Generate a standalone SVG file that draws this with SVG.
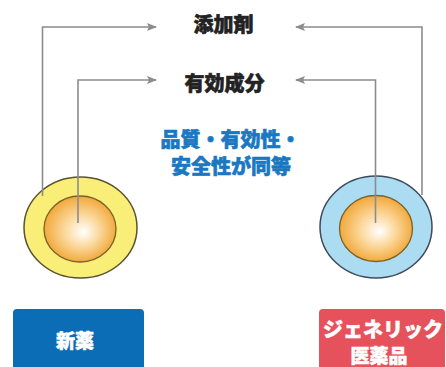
<svg xmlns="http://www.w3.org/2000/svg" width="446" height="367" viewBox="0 0 446 367">
<defs>
<style>
.con{fill:none;stroke:#8c8c8c;stroke-width:1.6}
.lbl{font-family:"Noto Sans CJK JP","Noto Sans CJK SC",sans-serif;font-weight:900;text-anchor:middle}
.dark{fill:#222;stroke:#222;stroke-width:0.6;font-size:20px}
.blue{fill:#1a78c2;stroke:#1a78c2;stroke-width:0.6;font-size:20px}
.wt{fill:#fff;stroke:#fff;stroke-width:0.5}
</style>
<marker id="ah" viewBox="0 0 10 10" refX="9" refY="5" markerWidth="10" markerHeight="10" markerUnits="userSpaceOnUse" orient="auto">
<path d="M0,1 L10,5 L0,9 L2,5 Z" fill="#8c8c8c"/>
</marker>
<radialGradient id="core" cx="0.5" cy="0.5" r="0.55" fx="0.55" fy="0.55">
<stop offset="0" stop-color="#ffffff"/>
<stop offset="0.45" stop-color="#fbd79a"/>
<stop offset="1" stop-color="#f0a02a"/>
</radialGradient>
</defs>
<g id="new-drug-circle">
<ellipse cx="80.5" cy="227.5" rx="56.5" ry="50.5" fill="#f8ee78" stroke="#5a5230" stroke-width="1.5"/>
<ellipse cx="80" cy="229" rx="36" ry="33" fill="url(#core)" stroke="#7a6228" stroke-width="1.3"/>
</g>
<g id="generic-circle">
<ellipse cx="376" cy="227" rx="56" ry="51" fill="#acdcf2" stroke="#3c4a5a" stroke-width="1.5"/>
<ellipse cx="376" cy="228.5" rx="36.5" ry="33" fill="url(#core)" stroke="#7a6228" stroke-width="1.3"/>
</g>
<g id="connectors">
<path class="con" d="M42.5,196 V27 H156" marker-end="url(#ah)"/>
<path class="con" d="M78,223 V80 H156" marker-end="url(#ah)"/>
<path class="con" d="M422,195 V27 H296" marker-end="url(#ah)"/>
<path class="con" d="M375.5,223 V80 H296" marker-end="url(#ah)"/>
</g>
<g id="additive"><text class="lbl dark" x="223.5" y="32">添加剤</text></g>
<g id="active"><text class="lbl dark" x="224.5" y="90.5">有効成分</text></g>
<g id="equal">
<text class="lbl blue" x="230.5" y="146.5">品質・有効性・</text>
<text class="lbl blue" x="231" y="173.5">安全性が同等</text>
</g>
<g id="new-drug">
<path d="M13,367 V313 Q13,309 17,309 H140 Q144,309 144,313 V367 Z" fill="#0b6db5"/>
<text class="lbl wt" x="75" y="348" font-size="19">新薬</text>
</g>
<g id="generic">
<path d="M319,367 V313 Q319,309 323,309 H441 Q445,309 445,313 V367 Z" fill="#e6525c"/>
<text class="lbl wt" x="383" y="336.5" font-size="20">ジェネリック</text>
<text class="lbl wt" x="379" y="362.5" font-size="19">医薬品</text>
</g>
</svg>
